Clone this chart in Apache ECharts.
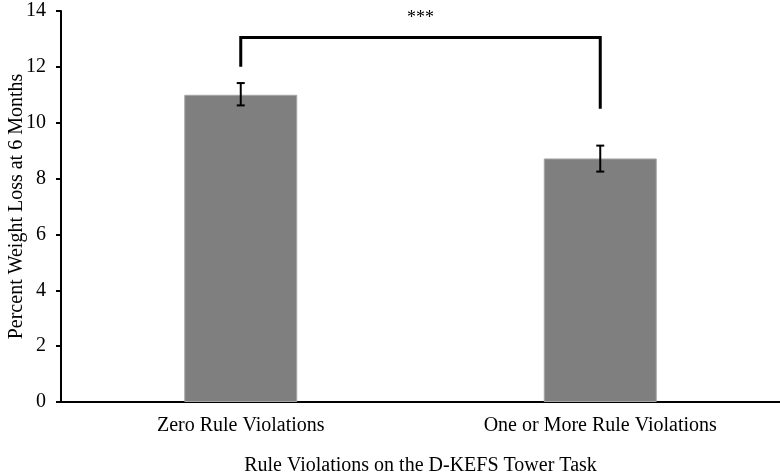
<!DOCTYPE html>
<html>
<head>
<meta charset="utf-8">
<script src="https://cdn.jsdelivr.net/npm/echarts@6/dist/echarts.min.js"></script>
<style>
  html, body { margin: 0; padding: 0; background: #fff; }
  #main { width: 780px; height: 476px; }
</style>
</head>
<body>
<div id="main"></div>
<script>
// values
const categories = ['Zero Rule Violations', 'One or More Rule Violations']
const weightLoss = [11.0, 8.72]
const errLow = [10.62, 8.25]
const errHigh = [11.42, 9.18]
// significance bracket: left leg end, right leg end, bracket top
const bracketLeft = 12.0
const bracketRight = 10.5
const bracketTop = 13.05
const bracketLabel = '***'

const font = 'Liberation Serif'
let chart = echarts.init(document.getElementById('main'))

const errData = categories.map((c, i) => [i, errLow[i], errHigh[i]])

const option = {
    animation: false,
    textStyle: { fontFamily: font },
    grid: { left: 61, right: 0, top: 11, bottom: 74, outerBoundsMode: 'none' },
    xAxis: {
        type: 'category',
        data: categories,
        name: 'Rule Violations on the D-KEFS Tower Task',
        nameLocation: 'middle',
        nameGap: 54,
        nameMoveOverlap: false,
        nameTextStyle: { fontFamily: font, fontSize: 20, color: '#000' },
        axisLine: { lineStyle: { color: '#000', width: 2 } },
        axisTick: { show: false },
        axisLabel: { fontFamily: font, fontSize: 20, color: '#000', margin: 14 }
    },
    yAxis: {
        type: 'value',
        min: 0,
        max: 14,
        interval: 2,
        name: 'Percent Weight Loss at 6 Months',
        nameLocation: 'middle',
        nameGap: 34,
        nameMoveOverlap: false,
        nameTextStyle: { fontFamily: font, fontSize: 20, color: '#000' },
        axisLine: { show: true, lineStyle: { color: '#000', width: 2 } },
        axisTick: { show: true, length: 5, lineStyle: { color: '#000', width: 2 } },
        axisLabel: { fontFamily: font, fontSize: 20, color: '#000', margin: 15 },
        splitLine: { show: false }
    },
    series: [
        {
            type: 'bar',
            data: weightLoss,
            barWidth: 113,
            itemStyle: { color: '#7f7f7f', borderColor: '#a6a6a6', borderWidth: 1 }
        },
        {
            type: 'custom',
            data: errData,
            z: 5,
            renderItem: function (params, api) {
                const x = api.value(0)
                const lo = api.coord([x, api.value(1)])
                const hi = api.coord([x, api.value(2)])
                const w = 4
                const style = { stroke: '#000', lineWidth: 2 }
                return {
                    type: 'group',
                    children: [
                        { type: 'line', shape: { x1: hi[0], y1: hi[1], x2: lo[0], y2: lo[1] }, style: style },
                        { type: 'line', shape: { x1: hi[0] - w, y1: hi[1], x2: hi[0] + w, y2: hi[1] }, style: style },
                        { type: 'line', shape: { x1: lo[0] - w, y1: lo[1], x2: lo[0] + w, y2: lo[1] }, style: style }
                    ]
                }
            }
        },
        {
            type: 'custom',
            data: [[0, 1, bracketLeft, bracketRight, bracketTop]],
            z: 5,
            renderItem: function (params, api) {
                const a = api.coord([api.value(0), api.value(2)])
                const aTop = api.coord([api.value(0), api.value(4)])
                const b = api.coord([api.value(1), api.value(3)])
                const bTop = api.coord([api.value(1), api.value(4)])
                return {
                    type: 'group',
                    children: [
                        {
                            type: 'polyline',
                            shape: { points: [a, aTop, bTop, b] },
                            style: { stroke: '#000', lineWidth: 3, fill: null }
                        },
                        {
                            type: 'text',
                            style: {
                                text: bracketLabel,
                                x: (aTop[0] + bTop[0]) / 2,
                                y: aTop[1] - 10,
                                align: 'center',
                                verticalAlign: 'bottom',
                                font: '18px "Liberation Serif"',
                                fill: '#000'
                            }
                        }
                    ]
                }
            }
        }
    ]
}

chart.setOption(option)
</script>
</body>
</html>
